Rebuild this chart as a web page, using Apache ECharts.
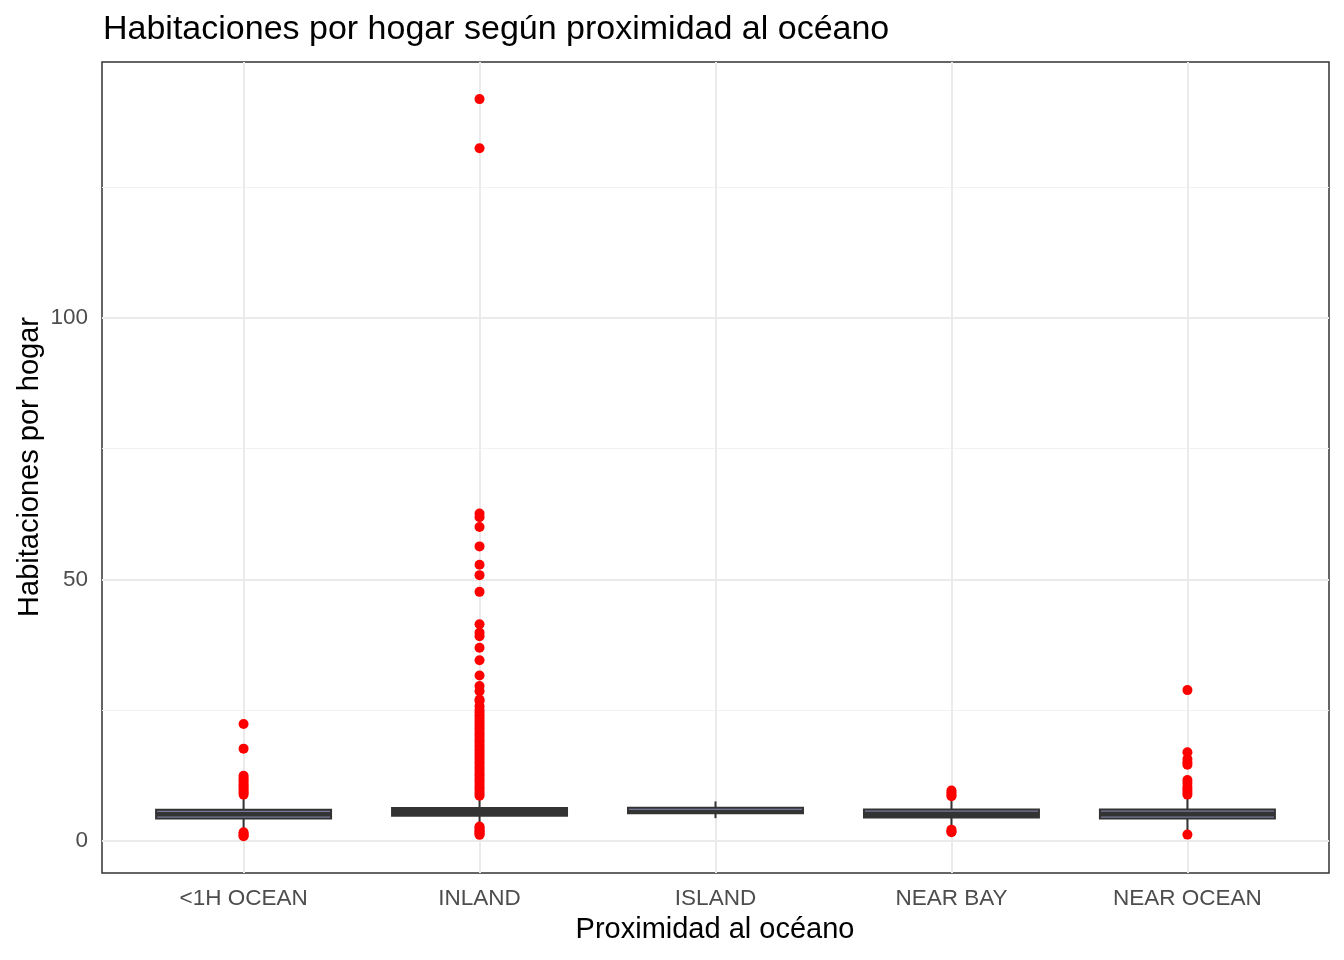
<!DOCTYPE html>
<html>
<head>
	<meta charset="utf-8" />
	<title>Habitaciones por hogar</title>
	<script src="https://cdn.jsdelivr.net/npm/echarts@6/dist/echarts.min.js"></script>
	<style>
		html, body {margin:0;padding:0;background:#fff;}
		#chart {width:1344px;height:960px;}
	</style>
</head>
<body>
	<div id="chart"></div>
	<script>
		// categorias
		var categories = ['<1H OCEAN', 'INLAND', 'ISLAND', 'NEAR BAY', 'NEAR OCEAN'];

		// resumen de cajas: bigote inf, Q1, mediana, Q3, bigote sup
		var whiskerLow  = [1.8, 2.9, 4.3, 2.6, 1.5];
		var q1          = [4.5, 5.05, 5.5, 4.7, 4.5];
		var median      = [5.0, 5.5, 5.7, 5.0, 5.0];
		var q3          = [5.6, 5.95, 6.0, 5.65, 5.65];
		var whiskerHigh = [8.6, 8.3, 7.5, 8.3, 8.0];

		// valores atipicos por categoria
		var outliers1h = [22.3, 17.6, 12.4, 12.0, 11.6, 11.2, 10.8, 10.4, 10.0, 9.6, 9.2, 8.8, 1.6, 1.3, 1.0, 0.85];
		var outliersInland = [
			141.9, 132.5, 62.6, 61.9, 60.0, 56.3, 52.8, 50.8, 47.6, 41.4, 39.8, 39.1, 36.9, 34.5,
			31.6, 29.6, 28.6, 27.0, 26.7, 25.7, 25.0, 24.5, 24.0, 23.5, 23.0, 22.5, 22.0, 21.5,
			21.0, 20.5, 20.0, 19.5, 19.0, 18.5, 18.0, 17.5, 17.0, 16.5, 16.0, 15.5, 15.0, 14.5,
			14.0, 13.5, 13.0, 12.5, 12.0, 11.5, 11.0, 10.5, 10.0, 9.5, 9.0, 8.6,
			2.7, 2.4, 2.1, 1.8, 1.5, 1.3, 1.1
		];
		var outliersIsland = [];
		var outliersNearBay = [9.6, 9.2, 8.8, 8.5, 2.1, 1.8, 1.6];
		var outliersNearOcean = [28.8, 16.9, 15.6, 15.0, 14.5, 11.6, 11.0, 10.3, 9.8, 9.3, 8.8, 1.15];

		var yTicks = [0, 50, 100];
		var yMinorGrid = [25, 75, 125];
		var xTicks = [0, 1, 2, 3, 4];

		// lineas de bisagra visibles (como en la imagen)
		var hingeTop    = [true, false, true, true, true];
		var hingeBottom = [true, false, false, false, true];

		var boxData = categories.map(function(c, i) {
			return [i, whiskerLow[i], q1[i], median[i], q3[i], whiskerHigh[i]];
		});

		var pointData = [];
		[outliers1h, outliersInland, outliersIsland, outliersNearBay, outliersNearOcean].forEach(function(arr, i) {
			arr.forEach(function(v) { pointData.push([i, v]); });
		});

		var font = "'Liberation Sans', Arial, sans-serif";

		function renderBox(params, api) {
			var x = api.value(0);
			var pLow  = api.coord([x, api.value(1)]);
			var pQ1   = api.coord([x, api.value(2)]);
			var pQ3   = api.coord([x, api.value(4)]);
			var pHigh = api.coord([x, api.value(5)]);
			var w = api.size([1, 0])[0] * 0.75;
			var cx = pQ1[0];
			var idx = params.dataIndex;
			var children = [
				{
					type: 'line',
					shape: {x1: cx, y1: pLow[1], x2: cx, y2: pHigh[1]},
					style: {stroke: '#333333', lineWidth: 2}
				},
				{
					type: 'rect',
					shape: {x: cx - w / 2, y: pQ3[1] - 2.5, width: w, height: pQ1[1] - pQ3[1] + 5},
					style: {fill: '#333333'}
				}
			];
			if (hingeTop[idx]) {
				children.push({
					type: 'line',
					shape: {x1: cx - w / 2 + 2, y1: pQ3[1], x2: cx + w / 2 - 2, y2: pQ3[1]},
					style: {stroke: '#8a8ab8', lineWidth: 1}
				});
			}
			if (hingeBottom[idx]) {
				children.push({
					type: 'line',
					shape: {x1: cx - w / 2 + 2, y1: pQ1[1], x2: cx + w / 2 - 2, y2: pQ1[1]},
					style: {stroke: '#8a8ab8', lineWidth: 1}
				});
			}
			return {type: 'group', children: children};
		}

		var chart = echarts.init(document.getElementById('chart'));

		var gridLines = [];
		yTicks.forEach(function(v) {
			gridLines.push({yAxis: v, lineStyle: {color: '#ebebeb', width: 2, type: 'solid'}});
		});
		yMinorGrid.forEach(function(v) {
			gridLines.push({yAxis: v, lineStyle: {color: '#f2f2f2', width: 1, type: 'solid'}});
		});
		xTicks.forEach(function(v) {
			gridLines.push({xAxis: v, lineStyle: {color: '#ebebeb', width: 2, type: 'solid'}});
		});

		var option = {
			animation: false,
			textStyle: {fontFamily: font},
			grid: {left: 102, right: 15, top: 62, bottom: 87, show: true, borderColor: '#333333', borderWidth: 1.5, backgroundColor: '#fff'},
			graphic: [
				{type: 'text', left: 103, top: 13, style: {text: 'Habitaciones por hogar según proximidad al océano', font: '34px ' + font, fill: '#000'}},
				{type: 'text', x: 715, y: 930, style: {text: 'Proximidad al océano', font: '29px ' + font, fill: '#000', align: 'center', verticalAlign: 'middle'}},
				{type: 'text', x: 30, y: 467, rotation: Math.PI / 2, style: {text: 'Habitaciones por hogar', font: '29px ' + font, fill: '#000', align: 'center', verticalAlign: 'middle'}}
			],
			xAxis: {
				type: 'value',
				min: -0.6,
				max: 4.6,
				axisLine: {show: false},
				axisTick: {show: true, length: 6, customValues: xTicks, lineStyle: {color: '#333333', width: 2}},
				axisLabel: {
					color: '#4d4d4d', fontSize: 22.5, margin: 14, customValues: xTicks, fontFamily: font,
					formatter: function(v) { return categories[Math.round(v)]; }
				},
				splitLine: {show: false}
			},
			yAxis: {
				type: 'value',
				min: -6.2,
				max: 149,
				axisLine: {show: false},
				axisTick: {show: true, length: 6, customValues: yTicks, lineStyle: {color: '#333333', width: 2}},
				axisLabel: {color: '#4d4d4d', fontSize: 22.5, margin: 14, customValues: yTicks, fontFamily: font},
				splitLine: {show: false}
			},
			series: [
				{
					type: 'line',
					data: [],
					z: 1,
					silent: true,
					markLine: {z: 1, silent: true, symbol: 'none', label: {show: false}, animation: false, data: gridLines}
				},
				{
					type: 'custom',
					z: 6,
					renderItem: renderBox,
					encode: {x: 0, y: [1, 2, 3, 4, 5]},
					data: boxData
				},
				{
					type: 'scatter',
					z: 7,
					symbol: 'circle',
					symbolSize: 10,
					itemStyle: {color: '#ff0000', opacity: 1},
					data: pointData
				}
			]
		};

		chart.setOption(option);
	</script>
</body>
</html>
